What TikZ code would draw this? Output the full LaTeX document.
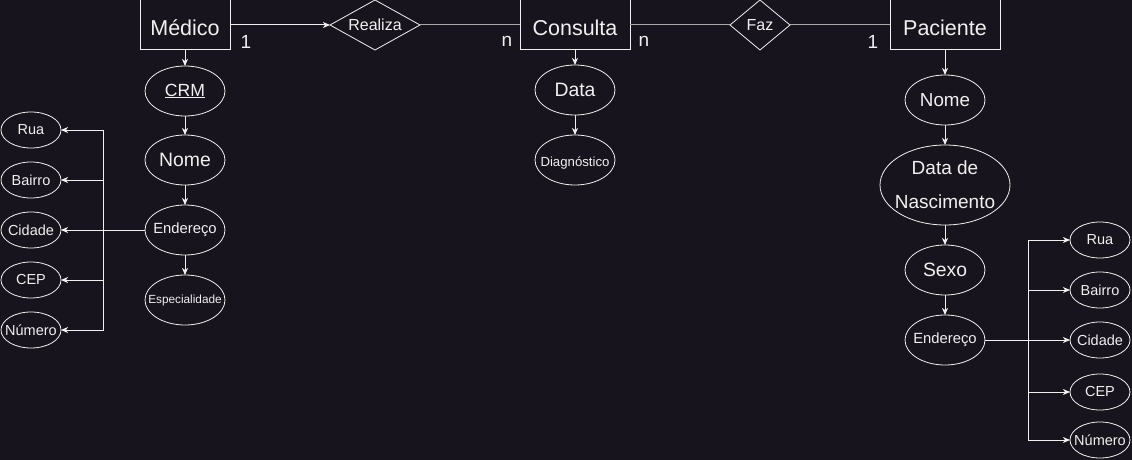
\documentclass[tikz,border=0pt]{standalone}
\usepackage{fontspec}
\setmainfont{Liberation Sans}
\usetikzlibrary{shapes.geometric,arrows.meta}
\definecolor{bg}{HTML}{18141D}
\definecolor{fg}{HTML}{F0F0F0}
\definecolor{lg}{HTML}{A8A8A8}
\newcommand{\fs}[1]{\fontsize{#1}{#1}\selectfont}
\newcommand{\zb}[1]{\makebox[0pt]{#1}}
\newcommand{\lw}[1]{\raisebox{-3pt}[\height][\depth]{#1}}
\tikzset{
  ent/.style={draw=fg,line width=1pt,rectangle,inner sep=0pt,outer sep=0pt,text=fg,minimum height=50pt,font=\fs{21.5}},
  rel/.style={draw=fg,line width=0.8pt,diamond,inner sep=0pt,outer sep=0pt,text=fg,minimum height=50pt,font=\fs{16}},
  attr/.style={draw=fg,line width=0.8pt,ellipse,inner sep=0pt,outer sep=0pt,text=fg,minimum width=80pt,minimum height=50pt},
  sattr/.style={draw=fg,line width=0.8pt,ellipse,inner sep=0pt,outer sep=0pt,text=fg,minimum width=60pt,minimum height=36pt,font=\fs{14.5}},
  conn/.style={draw=fg,line width=1pt,-{Stealth[length=7pt,width=6pt,inset=2pt]}},
  grey/.style={draw=lg,line width=1pt},
  card/.style={text=fg,font=\fs{19},inner sep=0pt}
}
\begin{document}
\begin{tikzpicture}[x=1pt,y=-1pt]
\fill[bg] (0,0) rectangle (1132,460);
\useasboundingbox (0,0) rectangle (1132,460);
% entities and relations
\node[ent,minimum width=90pt] (med) at (185,25) {\lw{Médico}};
\node[rel,minimum width=90pt,aspect=1.8] (realiza) at (375,25) {Realiza};
\node[ent,minimum width=110pt] (cons) at (575,25) {\lw{Consulta}};
\node[rel,minimum width=60pt,aspect=1.2] (faz) at (760,25) {Faz};
\node[ent,minimum width=110pt] (pac) at (945,25) {\lw{Paciente}};
\draw[conn] (med) -- (realiza);
\draw[grey] (realiza) -- (cons);
\draw[grey] (cons) -- (faz);
\draw[grey] (faz) -- (pac);
\node[card] (c1) at (246,42) {1};
\node[card] (c2) at (507,41) {n};
\node[card] (c3) at (644,41) {n};
\node[card] (c4) at (873,42) {1};
% Medico attributes
\node[attr,font=\fs{17.6}] (crm) at (185,91) {\zb{\underline{CRM}}};
\node[attr,font=\fs{19.4}] (nome1) at (185,160) {\zb{Nome}};
\node[attr,font=\fs{14.8}] (end1) at (185,230) {\zb{Endereço}};
\node[attr,font=\fs{11.8}] (esp) at (185,300) {\zb{Especialidade}};
\draw[conn] (med) -- (crm);
\draw[conn] (crm) -- (nome1);
\draw[conn] (nome1) -- (end1);
\draw[conn] (end1) -- (esp);
\node[sattr] (rua1) at (31,130) {\zb{Rua}};
\node[sattr] (bai1) at (31,180) {\zb{Bairro}};
\node[sattr] (cid1) at (31,230) {\zb{Cidade}};
\node[sattr] (cep1) at (31,280) {\zb{CEP}};
\node[sattr] (num1) at (31,330) {\zb{Número}};
\coordinate (j1) at (103,230);
\draw[conn] (end1) -- (cid1);
\draw[conn] (j1) |- (rua1);
\draw[conn] (j1) |- (bai1);
\draw[conn] (j1) |- (cep1);
\draw[conn] (j1) |- (num1);
% Consulta attributes
\node[attr,font=\fs{19.4}] (data) at (575,90) {\zb{Data}};
\node[attr,font=\fs{13.2}] (diag) at (575,160) {\zb{\lw{Diagnóstico}}};
\draw[conn] (cons) -- (data);
\draw[conn] (data) -- (diag);
% Paciente attributes
\node[attr,font=\fs{18.8}] (nome2) at (945,100) {\zb{Nome}};
\node[attr,minimum width=130pt,minimum height=80pt,align=center,font={\fontsize{19}{34}\selectfont}] (nasc) at (945,185) {\zb{Data de}\\\zb{Nascimento}};
\node[attr,font=\fs{19.3}] (sexo) at (945,270) {\zb{Sexo}};
\node[attr,font=\fs{14.8}] (end2) at (945,340) {\zb{Endereço}};
\draw[conn] (pac) -- (nome2);
\draw[conn] (nome2) -- (nasc);
\draw[conn] (nasc) -- (sexo);
\draw[conn] (sexo) -- (end2);
\node[sattr] (rua2) at (1100,240) {\zb{Rua}};
\node[sattr] (bai2) at (1100,290) {\zb{Bairro}};
\node[sattr] (cid2) at (1100,340) {\zb{Cidade}};
\node[sattr] (cep2) at (1100,392) {\zb{CEP}};
\node[sattr] (num2) at (1100,440) {\zb{Número}};
\coordinate (j2) at (1028,340);
\draw[conn] (end2) -- (cid2);
\draw[conn] (j2) |- (rua2);
\draw[conn] (j2) |- (bai2);
\draw[conn] (j2) |- (cep2);
\draw[conn] (j2) |- (num2);
\end{tikzpicture}
\end{document}
